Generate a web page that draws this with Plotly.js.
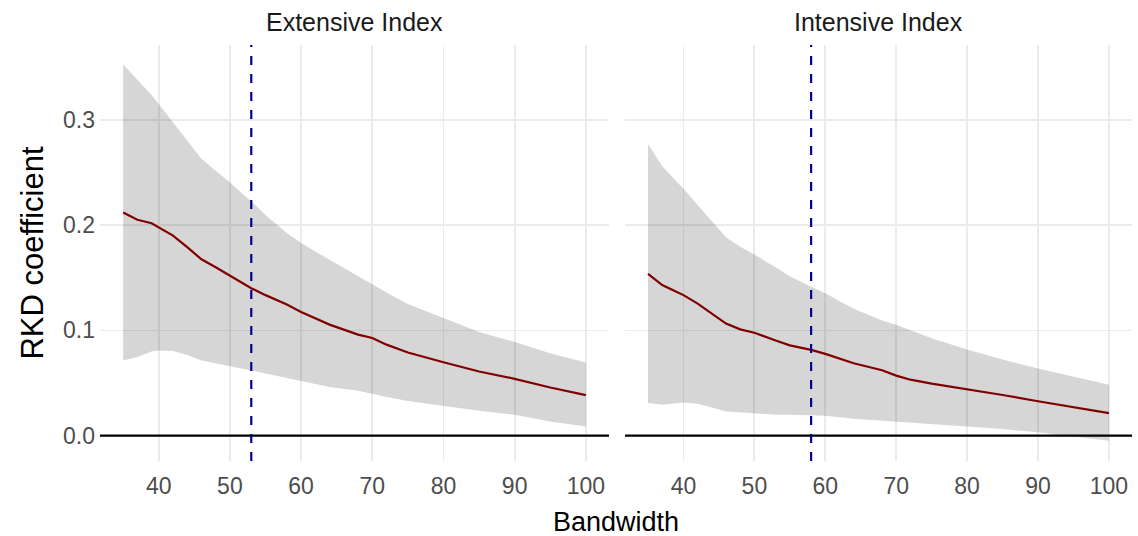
<!DOCTYPE html>
<html>
<head>
<meta charset="utf-8">
<script src="https://cdn.plot.ly/plotly-3.0.1.min.js"></script>
<style>html,body{margin:0;padding:0;background:#fff;}#chart{width:1138px;height:536px;}</style>
</head>
<body>
<div id="chart"></div>
<script>
// Bandwidth grid
const bandwidth = [35,37,39,40,42,44,46,48,50,53,55,58,60,64,68,70,72,75,80,85,90,95,100];

// Extensive Index
const extEstimate = [0.212,0.205,0.2018,0.198,0.190,0.179,0.1675,0.160,0.152,0.140,0.1335,0.1245,0.1175,0.1055,0.096,0.0928,0.0865,0.079,0.0698,0.061,0.054,0.0458,0.0385];
const extUpper = [0.3526,0.338,0.3235,0.315,0.298,0.281,0.263,0.2515,0.2405,0.2225,0.2095,0.1925,0.183,0.167,0.1515,0.1435,0.136,0.125,0.1115,0.0985,0.089,0.0784,0.0695];
const extLower = [0.0714,0.0748,0.080,0.081,0.0805,0.0766,0.0714,0.0685,0.0658,0.062,0.059,0.0548,0.0517,0.0463,0.0428,0.0396,0.0368,0.033,0.0284,0.0236,0.0198,0.0136,0.0088];

// Intensive Index
const intEstimate = [0.1536,0.143,0.1368,0.1335,0.1255,0.116,0.1065,0.101,0.0978,0.0904,0.0858,0.0815,0.0777,0.0688,0.0622,0.0571,0.0532,0.0494,0.0444,0.0387,0.0327,0.027,0.0215];
const intUpper = [0.2768,0.256,0.2415,0.2348,0.219,0.2035,0.1885,0.1794,0.172,0.1599,0.1515,0.1415,0.1353,0.1205,0.1095,0.1054,0.1002,0.0926,0.0819,0.0723,0.0638,0.0563,0.0483];
const intLower = [0.031,0.0294,0.0308,0.0316,0.0304,0.0268,0.023,0.0221,0.021,0.0199,0.0199,0.0196,0.019,0.016,0.0144,0.0133,0.0123,0.0108,0.0089,0.0065,0.0032,-0.0005,-0.0047];

// Optimal bandwidths (dashed lines)
const panelTitles = ["Extensive Index","Intensive Index"];
const optimalBandwidth = [53, 58];
const xTicks = [40,50,60,70,80,90,100];
const yTicks = [0, 0.1, 0.2, 0.3];
const yTickText = ["0.0","0.1","0.2","0.3"];

const FONT = "Liberation Sans, Arial, sans-serif";

function ribbon(x, up, lo, xa, ya) {
  return {
    x: x.concat(x.slice().reverse()),
    y: up.concat(lo.slice().reverse()),
    xaxis: xa, yaxis: ya,
    type: 'scatter', mode: 'lines', fill: 'toself',
    fillcolor: 'rgba(0,0,0,0.16)', line: {width: 0, color: 'rgba(0,0,0,0)'},
    hoverinfo: 'skip', showlegend: false
  };
}
function est(x, y, xa, ya) {
  return {x: x, y: y, xaxis: xa, yaxis: ya, type: 'scatter', mode: 'lines',
    line: {color: '#800000', width: 2.2}, showlegend: false};
}

const data = [
  ribbon(bandwidth, extUpper, extLower, 'x', 'y'),
  est(bandwidth, extEstimate, 'x', 'y'),
  ribbon(bandwidth, intUpper, intLower, 'x2', 'y2'),
  est(bandwidth, intEstimate, 'x2', 'y2')
];

const xBase = {
  range: [31.75, 103.25], tickvals: xTicks, ticktext: xTicks.map(String),
  showgrid: true, gridcolor: '#ebebeb', gridwidth: 1.8, zeroline: false, showline: false,
  ticks: '', ticklabelstandoff: 9,
  tickfont: {family: FONT, size: 23, color: '#4d4d4d'}
};
const yBase = {
  range: [-0.024, 0.371], tickvals: yTicks, ticktext: yTickText,
  showgrid: true, gridcolor: '#ebebeb', gridwidth: 1.8, zeroline: false, showline: false,
  ticks: '', ticklabelstandoff: 4,
  tickfont: {family: FONT, size: 23, color: '#4d4d4d'}
};

const layout = {
  width: 1138, height: 536,
  margin: {l: 100, r: 6, t: 45, b: 75},
  paper_bgcolor: '#ffffff', plot_bgcolor: '#ffffff',
  font: {family: FONT},
  xaxis: Object.assign({}, xBase, {domain: [0, 0.4932], anchor: 'y'}),
  xaxis2: Object.assign({}, xBase, {domain: [0.5087, 1], anchor: 'y2'}),
  yaxis: Object.assign({}, yBase, {domain: [0, 1], anchor: 'x',
    title: {text: 'RKD coefficient', font: {family: FONT, size: 31, color: '#000'}, standoff: 10}}),
  yaxis2: Object.assign({}, yBase, {domain: [0, 1], anchor: 'x2', matches: 'y', showticklabels: false}),
  annotations: [
    {text: panelTitles[0], xref: 'x domain', yref: 'paper', x: 0.5, y: 1, yanchor: 'bottom', yshift: 7,
     showarrow: false, font: {family: FONT, size: 25, color: '#1a1a1a'}},
    {text: panelTitles[1], xref: 'x2 domain', yref: 'paper', x: 0.5, y: 1, yanchor: 'bottom', yshift: 7,
     showarrow: false, font: {family: FONT, size: 25, color: '#1a1a1a'}},
    {text: 'Bandwidth', xref: 'paper', yref: 'paper', x: 0.5, y: 0, yanchor: 'top', yshift: -44,
     showarrow: false, font: {family: FONT, size: 27, color: '#000'}}
  ],
  shapes: [
    {type: 'line', xref: 'x domain', yref: 'y', x0: 0, x1: 1, y0: 0, y1: 0, line: {color: '#000', width: 2.2}},
    {type: 'line', xref: 'x2 domain', yref: 'y2', x0: 0, x1: 1, y0: 0, y1: 0, line: {color: '#000', width: 2.2}},
    {type: 'line', xref: 'x', yref: 'y domain', x0: optimalBandwidth[0], x1: optimalBandwidth[0], y0: 0, y1: 1,
     line: {color: '#00008b', width: 2.2, dash: '9px,9px'}},
    {type: 'line', xref: 'x2', yref: 'y2 domain', x0: optimalBandwidth[1], x1: optimalBandwidth[1], y0: 0, y1: 1,
     line: {color: '#00008b', width: 2.2, dash: '9px,9px'}}
  ]
};

Plotly.newPlot('chart', data, layout, {displayModeBar: false, staticPlot: true});
</script>
</body>
</html>
